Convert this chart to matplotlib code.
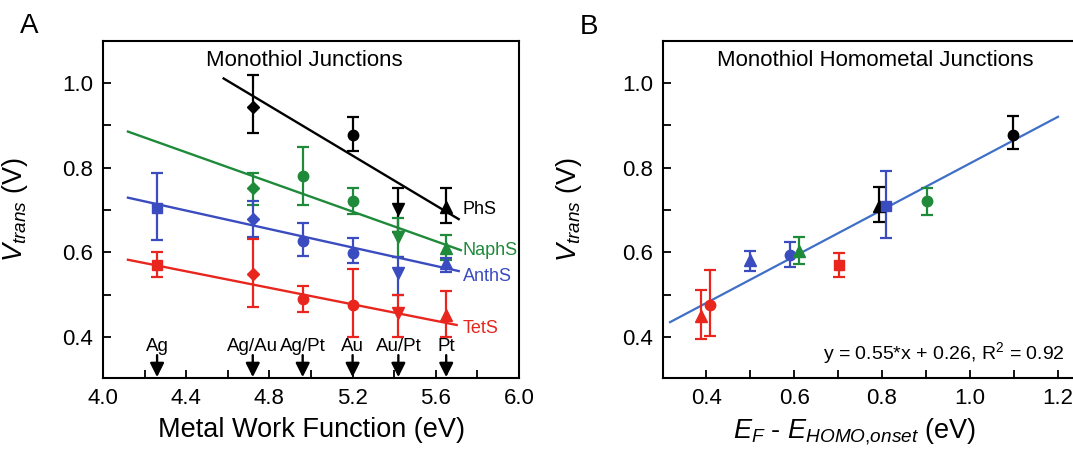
import numpy as np
import matplotlib
matplotlib.use('Agg')
import matplotlib.pyplot as plt
from matplotlib.ticker import MultipleLocator, FormatStrFormatter

plt.rcParams['font.family'] = ['Liberation Sans', 'DejaVu Sans']
plt.rcParams['mathtext.fontset'] = 'custom'
plt.rcParams['mathtext.rm'] = 'Liberation Sans'
plt.rcParams['mathtext.it'] = 'Liberation Sans:italic'

# Panel A: Vtrans vs metal work function
metals = ['Ag', 'Ag/Au', 'Ag/Pt', 'Au', 'Au/Pt', 'Pt']
work_fn = [4.26, 4.72, 4.96, 5.20, 5.42, 5.65]
metal_markers = ['s', 'D', 'o', 'o', 'v', '^']

series = ['PhS', 'NaphS', 'AnthS', 'TetS']
colors = {'PhS': 'black', 'NaphS': '#1f8a3a', 'AnthS': '#3a4cc0', 'TetS': '#e8261e'}

vt_PhS = [np.nan, 0.944, np.nan, 0.877, 0.702, 0.708]
lo_PhS = [np.nan, 0.881, np.nan, 0.838, 0.649, 0.668]
hi_PhS = [np.nan, 1.019, np.nan, 0.919, 0.751, 0.751]

vt_NaphS = [np.nan, 0.751, 0.780, 0.722, 0.637, 0.609]
lo_NaphS = [np.nan, 0.712, 0.712, 0.690, 0.588, 0.582]
hi_NaphS = [np.nan, 0.788, 0.848, 0.751, 0.680, 0.641]

vt_AnthS = [0.704, 0.678, 0.627, 0.598, 0.550, 0.574]
lo_AnthS = [0.629, 0.635, 0.590, 0.574, 0.499, 0.554]
hi_AnthS = [0.788, 0.722, 0.668, 0.633, 0.588, 0.586]

vt_TetS = [0.570, 0.549, 0.489, 0.475, 0.456, 0.452]
lo_TetS = [0.542, 0.471, 0.460, 0.400, 0.400, 0.400]
hi_TetS = [0.601, 0.631, 0.520, 0.560, 0.499, 0.509]

# linear fits as drawn: slope, intercept, x start, x end
fit_PhS = (-0.294, 2.357, 4.58, 5.71)
fit_NaphS = (-0.175, 1.606, 4.12, 5.72)
fit_AnthS = (-0.109, 1.178, 4.12, 5.71)
fit_TetS = (-0.0975, 0.984, 4.12, 5.70)

label_y = [0.700, 0.605, 0.542, 0.420]

# Panel B: Vtrans vs EF - EHOMO,onset
eb_x = [1.098, 0.794, 0.808, 0.902, 0.591, 0.612, 0.500, 0.701, 0.408, 0.388]
eb_y = [0.877, 0.709, 0.709, 0.722, 0.594, 0.603, 0.582, 0.569, 0.475, 0.449]
eb_lo = [0.844, 0.672, 0.633, 0.689, 0.565, 0.573, 0.556, 0.541, 0.403, 0.394]
eb_hi = [0.922, 0.754, 0.791, 0.752, 0.624, 0.636, 0.604, 0.598, 0.557, 0.512]
eb_series = ['PhS', 'PhS', 'AnthS', 'NaphS', 'AnthS', 'NaphS', 'AnthS', 'TetS', 'TetS', 'TetS']
eb_markers = ['o', '^', 's', 'o', 'o', '^', '^', 's', 'o', '^']
fit_b = (0.55, 0.26, 0.318, 1.20)

data = {
    'PhS': (vt_PhS, lo_PhS, hi_PhS, fit_PhS),
    'NaphS': (vt_NaphS, lo_NaphS, hi_NaphS, fit_NaphS),
    'AnthS': (vt_AnthS, lo_AnthS, hi_AnthS, fit_AnthS),
    'TetS': (vt_TetS, lo_TetS, hi_TetS, fit_TetS),
}
msizes = {'s': 7.5, 'D': 6, 'o': 7.5, 'v': 8, '^': 8.5}


def style_axes(ax):
    for sp in ax.spines.values():
        sp.set_linewidth(1.5)
    ax.tick_params(which='both', direction='in', length=6, width=1.3,
                   labelsize=16, pad=7, top=False, right=False)
    ax.xaxis.set_major_formatter(FormatStrFormatter('%.1f'))
    ax.yaxis.set_major_formatter(FormatStrFormatter('%.1f'))
    ax.yaxis.set_major_locator(MultipleLocator(0.2))
    ax.yaxis.set_minor_locator(MultipleLocator(0.1))
    ax.set_ylim(0.303, 1.099)


fig = plt.figure(figsize=(10.73, 4.5), dpi=100)
axA = fig.add_axes([103 / 1073, 72 / 450, 416 / 1073, 337 / 450])
axB = fig.add_axes([663 / 1073, 72 / 450, 417 / 1073, 337 / 450])

# ---- panel A
for s, ly in zip(series, label_y):
    vt, lo, hi, fit = data[s]
    c = colors[s]
    m, b, x0, x1 = fit
    xs = np.array([x0, x1])
    axA.plot(xs, m * xs + b, color=c, lw=1.7, zorder=2)
    for x, y, l, h, mk in zip(work_fn, vt, lo, hi, metal_markers):
        if np.isnan(y):
            continue
        axA.errorbar(x, y, yerr=[[y - l], [h - y]], fmt=mk, color=c,
                     ms=msizes[mk], elinewidth=1.6, capsize=4, capthick=1.6, zorder=3)
    axA.text(5.73, ly, s, color=c, fontsize=13, ha='left', va='center')

for x, name in zip(work_fn, metals):
    axA.text(x, 0.377, name, fontsize=13.5, ha='center', va='center')
    axA.annotate('', xy=(x, 0.305), xytext=(x, 0.357),
                 arrowprops=dict(arrowstyle='-|>,head_length=0.6,head_width=0.3',
                                 color='black', lw=1.7,
                                 mutation_scale=14, shrinkA=0, shrinkB=0))

axA.set_xlim(4.0, 6.0)
axA.xaxis.set_major_locator(MultipleLocator(0.4))
axA.xaxis.set_minor_locator(MultipleLocator(0.2))
style_axes(axA)
axA.set_xlabel('Metal Work Function (eV)', fontsize=19.5, labelpad=6)
axA.set_ylabel(r'$V_{trans}$ (V)', fontsize=19.5)
axA.yaxis.set_label_coords(-0.175, 0.5)
axA.text(4.97, 1.054, 'Monothiol Junctions', fontsize=16, ha='center', va='center')

# ---- panel B
m, b, x0, x1 = fit_b
xs = np.array([x0, x1])
axB.plot(xs, m * xs + b, color='#3f6fc6', lw=1.6, zorder=2)
for x, y, l, h, s, mk in zip(eb_x, eb_y, eb_lo, eb_hi, eb_series, eb_markers):
    axB.errorbar(x, y, yerr=[[y - l], [h - y]], fmt=mk, color=colors[s],
                 ms=msizes[mk], elinewidth=1.6, capsize=4, capthick=1.6, zorder=3)
axB.text(1.216, 0.363, r'y = 0.55*x + 0.26, R$^2$ = 0.92', fontsize=14,
         ha='right', va='center')
axB.text(0.784, 1.054, 'Monothiol Homometal Junctions', fontsize=16,
         ha='center', va='center')

axB.set_xlim(0.302, 1.25)
axB.xaxis.set_major_locator(MultipleLocator(0.2))
axB.xaxis.set_minor_locator(MultipleLocator(0.1))
style_axes(axB)
axB.set_xlabel(r'$E_F$ - $E_{HOMO{,}onset}$ (eV)', fontsize=19.5)
axB.xaxis.set_label_coords(0.46, -0.115)
axB.set_ylabel(r'$V_{trans}$ (V)', fontsize=19.5)
axB.yaxis.set_label_coords(-0.19, 0.5)

fig.text(20 / 1073, 1 - 26 / 450, 'A', fontsize=20, ha='left', va='center')
fig.text(580 / 1073, 1 - 27 / 450, 'B', fontsize=20, ha='left', va='center')

fig.savefig('out.png', dpi=100)
